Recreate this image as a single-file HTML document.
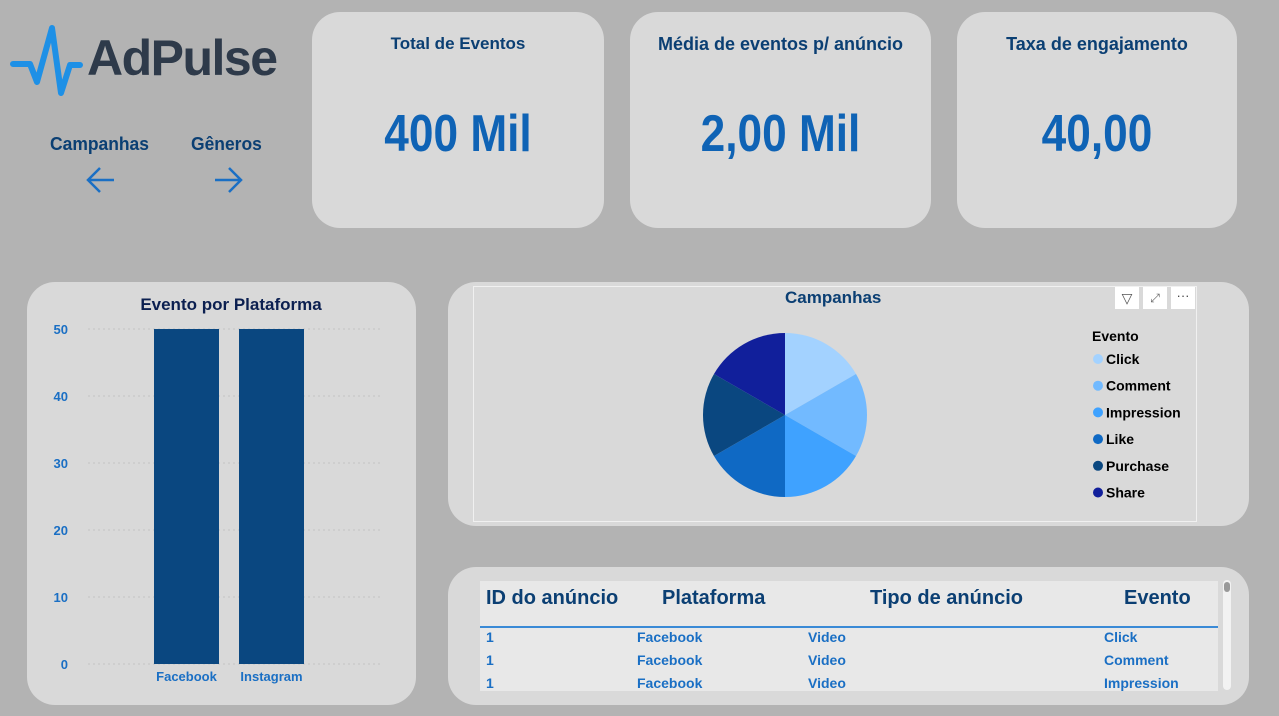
<!DOCTYPE html>
<html><head><meta charset="utf-8"><style>
body{margin:0;width:1279px;height:716px;background:#b3b3b3;font-family:"Liberation Sans",sans-serif;position:relative;overflow:hidden}
.card{position:absolute;background:#d9d9d9;border-radius:28px}
.abs{position:absolute}
.kt{position:absolute;width:100%;text-align:center;color:#0b3f73;font-weight:bold}
.kv{position:absolute;width:100%;text-align:center;color:#0f63b5;font-weight:bold;font-size:52px;transform:scaleX(0.85)}
</style></head><body>
<div class="abs" style="left:10px;top:24px;width:280px;height:75px">
<svg width="80" height="75" style="position:absolute;left:0;top:0"><polyline points="3,40 20,40 27,58 42,4 51,69 60,41 70,41" fill="none" stroke="#1e90e6" stroke-width="6" stroke-linejoin="round" stroke-linecap="round"/></svg>
<div class="abs" style="left:77px;top:5px;font-size:50px;font-weight:bold;color:#2e3a4a;letter-spacing:-1.5px">AdPulse</div>
</div>
<div class="abs" style="left:50px;top:134px;color:#0b3f73;font-weight:bold;font-size:18px;transform:scaleX(0.97);transform-origin:left">Campanhas</div>
<div class="abs" style="left:191px;top:134px;color:#0b3f73;font-weight:bold;font-size:18px;transform:scaleX(0.97);transform-origin:left">Gêneros</div>
<svg class="abs" style="left:84px;top:165px" width="32" height="30"><path d="M30,15H4M16,3L4,15L16,27" fill="none" stroke="#1a6fc4" stroke-width="2.5"/></svg>
<svg class="abs" style="left:213px;top:165px" width="32" height="30"><path d="M2,15H28M16,3L28,15L16,27" fill="none" stroke="#1a6fc4" stroke-width="2.5"/></svg>

<div class="card" style="left:312px;top:12px;width:292px;height:216px"><div class="kt" style="top:22px;font-size:17px">Total de Eventos</div><div class="kv" style="top:92px">400 Mil</div></div>
<div class="card" style="left:630px;top:12px;width:301px;height:216px"><div class="kt" style="top:22px;font-size:18px">Média de eventos p/ anúncio</div><div class="kv" style="top:92px">2,00 Mil</div></div>
<div class="card" style="left:957px;top:12px;width:280px;height:216px"><div class="kt" style="top:22px;font-size:18px">Taxa de engajamento</div><div class="kv" style="top:92px">40,00</div></div>

<div class="card" style="left:27px;top:282px;width:389px;height:423px"></div>
<svg class="abs" id="bar" style="left:0;top:0" width="420" height="716"></svg>

<div class="card" style="left:448px;top:282px;width:801px;height:244px"></div>
<div class="abs" style="left:473px;top:286px;width:722px;height:234px;border:1px solid #f0f0f0"></div>
<div class="abs" style="left:785px;top:288px;color:#0b3f73;font-weight:bold;font-size:17px">Campanhas</div>
<div class="abs" style="left:1115px;top:287px;width:24px;height:22px;background:#fff;color:#555;text-align:center;font-size:14px;line-height:22px">▽</div>
<div class="abs" style="left:1143px;top:287px;width:24px;height:22px;background:#fff;color:#666;text-align:center;font-size:12px;line-height:22px">⤢</div>
<div class="abs" style="left:1171px;top:287px;width:24px;height:22px;background:#fff;color:#444;text-align:center;font-size:13px;line-height:18px">···</div>
<svg class="abs" id="pie" style="left:0;top:0" width="1279" height="716"></svg>

<div class="card" style="left:448px;top:567px;width:801px;height:138px"></div>
<div class="abs" style="left:480px;top:581px;width:738px;height:110px;background:#e8e8e8;color:#0b3f73;font-weight:bold">
<div class="abs" style="left:0;top:0;width:738px;height:45px;border-bottom:2px solid #3a8ad6"></div>
<div class="abs" style="left:6px;top:6px;font-size:20px">ID do anúncio</div>
<div class="abs" style="left:182px;top:6px;font-size:20px">Plataforma</div>
<div class="abs" style="left:390px;top:6px;font-size:20px">Tipo de anúncio</div>
<div class="abs" style="left:644px;top:6px;font-size:20px">Evento</div>
<div id="rows"></div>
</div>
<div class="abs" style="left:1223px;top:580px;width:8px;height:110px;background:#f2f2f2;border-radius:4px"><div style="width:6px;height:10px;margin:2px 1px;background:#999;border-radius:3px"></div></div>

<script>
const NS="http://www.w3.org/2000/svg";
const platforms=["Facebook","Instagram"];
const platformValues=[50,50];
const yTicks=[0,10,20,30,40,50];
const events=["Click","Comment","Impression","Like","Purchase","Share"];
const eventValues=[1,1,1,1,1,1];
const eventColors=["#a3d2ff","#72baff","#3fa2ff","#0f69c4","#0a4780","#111f9b"];
const tableRows=[["1","Facebook","Video","Click"],["1","Facebook","Video","Comment"],["1","Facebook","Video","Impression"]];

function mk(p,t,a,txt){const e=document.createElementNS(NS,t);for(const k in a)e.setAttribute(k,a[k]);if(txt!==undefined)e.textContent=txt;p.appendChild(e);return e;}
const bar=document.getElementById('bar');
const y=v=>664-v*(335/50);
const x0=146,bw=65,step=85;
const t=mk(bar,'text',{x:231,y:310,'text-anchor':'middle','font-size':17,'font-weight':'bold',fill:'#0b1f50'},'Evento por Plataforma');


yTicks.forEach(v=>{
 const l=mk(bar,'line',{x1:88,x2:380,y1:y(v),y2:y(v),stroke:'#c4c4c4','stroke-dasharray':'2,3'});
 
 
 const tx=mk(bar,'text',{x:68,y:y(v)+5,'text-anchor':'end','font-size':13,'font-weight':'bold',fill:'#1a6fc4'},v);
 
 
});
platforms.forEach((p,i)=>{
 const x=x0+8+i*step;
 const r=mk(bar,'rect',{x:x,y:y(platformValues[i]),width:bw,height:y(0)-y(platformValues[i]),fill:'#0a4780'});
 
 
 const tx=mk(bar,'text',{x:x+bw/2,y:681,'text-anchor':'middle','font-size':13,'font-weight':'bold',fill:'#1a6fc4'},p);
 
 
});
const pie=document.getElementById('pie');
const cx=785,cy=415,R=82,tot=eventValues.reduce((a,b)=>a+b,0);
let a=0;
events.forEach((ev,i)=>{
 const a1=a+eventValues[i]/tot*2*Math.PI;
 const p1=[cx+R*Math.sin(a),cy-R*Math.cos(a)],p2=[cx+R*Math.sin(a1),cy-R*Math.cos(a1)];
 const s=mk(pie,'path',{d:`M${cx},${cy}L${p1[0]},${p1[1]}A${R},${R} 0 ${a1-a>Math.PI?1:0} 1 ${p2[0]},${p2[1]}Z`,fill:eventColors[i]});
 
 
 a=a1;
 const ly=359+i*26.7;
 const c=mk(pie,'circle',{cx:1098,cy:ly,r:5,fill:eventColors[i]});
 
 
 const tx=mk(pie,'text',{x:1106,y:ly+5,'font-size':14,'font-weight':'bold',fill:'#000'},ev);
 
 
});
const lt=mk(pie,'text',{x:1092,y:341,'font-size':14,'font-weight':'bold',fill:'#000'},'Evento');


const rows=document.getElementById('rows');
const cols=[6,157,328,624];
tableRows.forEach((r,i)=>{r.forEach((c,j)=>{
 const d=document.createElement('div');
 
 
 d.className='abs';d.style.cssText=`left:${cols[j]}px;top:${48+i*23}px;font-size:14px;color:#1a6fc4`;d.textContent=c;rows.appendChild(d);
});});
</script>
</body></html>
